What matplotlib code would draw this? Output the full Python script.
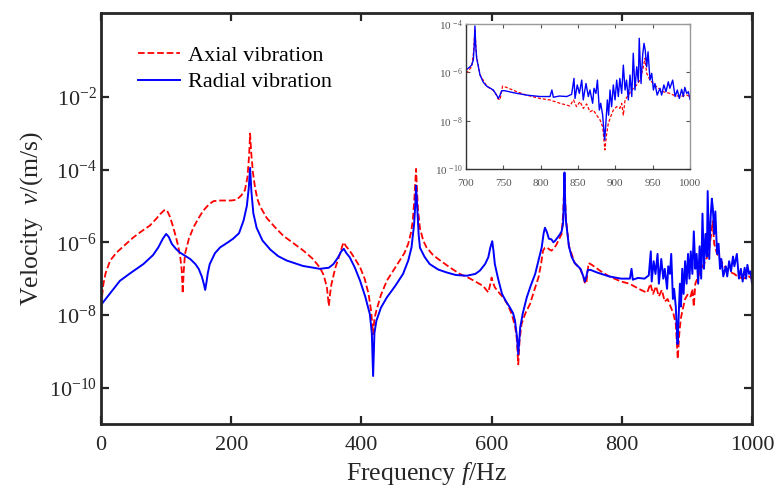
import numpy as np
import matplotlib
matplotlib.use("Agg")
import matplotlib.pyplot as plt

plt.rcParams['font.family'] = ['Liberation Serif', 'DejaVu Serif']
plt.rcParams['mathtext.fontset'] = 'custom'
plt.rcParams['mathtext.rm'] = 'Liberation Serif'
plt.rcParams['mathtext.it'] = 'Liberation Serif:italic'

# ---- Data (frequency in Hz, log10 of velocity in m/s) ----
axial_freq = [0, 1.5, 3.6, 7, 14, 24, 35, 50, 62, 75, 85, 91, 97, 101, 106, 111, 115, 119, 122, 124,
              125.5, 127, 129, 135, 142, 150, 157, 165, 172.5, 180, 193, 200, 208, 215, 221, 225, 227.5,
              229, 231, 233.5, 236.5, 240, 244, 254.5, 268, 280, 295, 311, 325, 336, 342, 347, 350, 352,
              354, 360, 367, 371, 373, 376, 382, 390, 398, 405, 411, 415, 418, 420, 423, 430, 439, 449,
              459, 466, 472, 476, 479, 481, 483, 484, 485.5, 487, 490, 495, 500, 510, 521, 535, 551, 565,
              577, 587, 595, 598, 600, 602, 605, 612, 618, 625, 631, 636, 638.5, 641, 643, 646, 652, 659,
              666, 672, 676, 679, 682, 685, 689, 692, 697, 700, 704, 707.6, 710, 712, 714, 718.8, 727.7,
              736.6, 741, 743, 745.5, 749, 754, 768, 781, 799, 812, 826, 839, 844, 848, 852.7, 857, 861.6,
              866, 870.5, 875, 879.5, 883, 886, 888.4, 890.6, 893.8, 897.3, 901.8, 906, 908.5, 910.7, 913,
              917.4, 922, 928.6, 933, 937.5, 939.7, 942, 946.4, 955, 964, 973, 977.7, 986.6, 995.5, 1000]
axial_log10 = [-7.75, -7.5, -7.15, -6.85, -6.5, -6.28, -6.1, -5.86, -5.7, -5.54, -5.35, -5.22, -5.12, -5.11,
               -5.3, -5.59, -5.85, -6.14, -6.45, -6.78, -7.41, -6.8, -6.32, -5.9, -5.59, -5.33, -5.13, -4.97,
               -4.87, -4.85, -4.85, -4.85, -4.83, -4.72, -4.57, -4.2, -3.6, -3.01, -3.6, -4.1, -4.48, -4.8,
               -5.0, -5.33, -5.6, -5.82, -6.02, -6.23, -6.45, -6.69, -6.9, -7.24, -7.75, -7.4, -7.15, -6.7,
               -6.32, -6.08, -6.0, -6.1, -6.23, -6.45, -6.69, -7.0, -7.42, -7.9, -8.53, -8.1, -7.88, -7.45,
               -7.06, -6.78, -6.5, -6.3, -6.04, -5.75, -5.4, -4.9, -4.3, -3.98, -4.6, -5.1, -5.62, -5.95,
               -6.14, -6.35, -6.5, -6.68, -6.87, -6.98, -7.1, -7.2, -7.38, -7.15, -6.97, -7.1, -7.24, -7.4,
               -7.52, -7.72, -7.98, -8.3, -8.62, -9.36, -8.7, -8.25, -7.95, -7.7, -7.3, -6.97, -6.6, -6.23,
               -6.15, -6.14, -6.2, -6.23, -6.14, -6.05, -5.9, -5.77, -5.2, -4.25, -5.3, -6.1, -6.57, -6.75,
               -6.95, -7.1, -7.14, -6.57, -6.62, -6.8, -6.94, -7.08, -7.14, -7.28, -7.39, -7.14, -7.42, -7.21,
               -7.49, -7.31, -7.63, -7.56, -7.77, -7.97, -8.25, -9.21, -8.52, -8.11, -7.83, -7.56, -7.42,
               -7.49, -7.28, -7.77, -7.14, -6.94, -6.73, -6.52, -6.32, -5.77, -5.42, -6.04, -6.32, -6.59,
               -6.8, -6.87, -6.94, -7.0, -6.94, -7.0]

radial_freq = [0, 1, 15, 29, 45, 65, 80, 88, 95, 100, 104, 108.6, 115, 121, 130, 137, 145, 150, 155, 158,
               160, 162, 164, 167, 175, 183, 195, 203, 212, 219, 224, 227, 229, 231, 234, 239, 248, 260,
               272, 285, 310, 336, 350, 357, 364, 369, 373, 377, 382, 390, 398, 406, 413, 416, 418, 420,
               423, 430, 439, 452, 464, 472, 477, 481, 483, 484, 486, 488, 490, 497, 505, 518, 531, 545,
               562, 575, 582, 590, 595, 598, 601, 603, 605, 610, 616, 622, 628, 633, 636, 639, 641, 643,
               644, 648, 654, 660, 667, 672, 677, 680, 682, 685, 688, 692, 695, 698, 700, 705, 707.6, 709.8,
               711, 712, 713, 714.3, 718.8, 723, 727.7, 736.6, 741, 743.3, 745.5, 747.8, 752, 763.4, 781,
               799, 812.5, 815, 817, 825, 835, 841.5, 844.6, 846, 849, 851.8, 855, 857, 860.7, 863.8, 866,
               869.6, 871.4, 874, 876, 878.6, 880.4, 883, 885.7, 887, 889.3, 891, 892.9, 895, 897.3, 899.6,
               901.8, 904, 906, 908.5, 910.7, 913, 915, 917.4, 919.6, 922, 924, 926.3, 928.6, 930.8, 932,
               934.4, 936.6, 938.4, 940, 942, 943.8, 946.4, 948.7, 951, 953, 956, 959.8, 962, 965, 967.8,
               970.9, 973, 976.8, 980, 983, 985.7, 988.8, 991, 993, 995.5, 997.8, 1000]
radial_log10 = [-7.72, -7.7, -7.38, -7.06, -6.85, -6.6, -6.35, -6.14, -5.9, -5.77, -5.85, -6.04, -6.18,
                -6.28, -6.38, -6.46, -6.6, -6.73, -6.95, -7.15, -7.31, -7.1, -6.85, -6.6, -6.3, -6.14, -6.0,
                -5.9, -5.75, -5.4, -5.0, -4.5, -3.95, -4.6, -5.2, -5.6, -5.95, -6.2, -6.38, -6.5, -6.65,
                -6.73, -6.7, -6.6, -6.42, -6.25, -6.18, -6.3, -6.41, -6.7, -7.06, -7.5, -7.98, -8.5, -9.68,
                -8.5, -8.16, -7.8, -7.52, -7.2, -6.87, -6.5, -6.14, -5.5, -4.9, -4.44, -5.1, -5.8, -6.15,
                -6.4, -6.6, -6.75, -6.83, -6.9, -6.92, -6.87, -6.78, -6.6, -6.41, -6.15, -5.97, -6.25, -6.6,
                -7.0, -7.42, -7.62, -7.79, -7.95, -8.16, -8.6, -9.08, -8.6, -8.34, -7.95, -7.52, -7.2, -6.87,
                -6.5, -6.14, -5.75, -5.6, -5.72, -5.9, -5.92, -6.0, -5.95, -5.9, -5.78, -5.7, -5.49, -4.9,
                -4.08, -4.9, -5.42, -6.11, -6.4, -6.57, -6.73, -6.94, -7.08, -6.95, -6.76, -6.76, -6.84,
                -6.94, -7.0, -7.0, -6.73, -7.03, -6.98, -7.0, -6.91, -6.25, -7.08, -6.52, -6.87, -6.32,
                -7.14, -6.46, -7.0, -6.73, -7.28, -6.66, -6.87, -6.32, -7.56, -7.28, -7.77, -8.8, -8.25,
                -7.14, -7.77, -6.73, -7.42, -6.52, -7.14, -6.32, -7.0, -6.25, -6.87, -5.7, -6.73, -6.32,
                -7.14, -6.11, -7.0, -5.21, -6.73, -5.77, -6.39, -4.59, -6.46, -5.28, -4.8, -5.08, -5.77,
                -5.15, -6.32, -6.04, -6.73, -6.46, -6.94, -6.66, -6.94, -6.52, -6.8, -6.39, -6.66, -6.32,
                -7.0, -6.73, -7.08, -6.7, -7.0, -6.62, -6.87, -6.8, -7.12]

x_ticks = [0, 200, 400, 600, 800, 1000]
y_tick_exps = [-10, -8, -6, -4, -2]
inset_x_ticks = [700, 750, 800, 850, 900, 950, 1000]
inset_y_tick_exps = [-10, -8, -6, -4]

axial_v = 10.0 ** np.array(axial_log10)
radial_v = 10.0 ** np.array(radial_log10)

fig = plt.figure(figsize=(7.76, 4.90), dpi=100)
ax = fig.add_axes([0.1302, 0.1347, 0.8388, 0.8388])

ax.plot(axial_freq, axial_v, color='#ff0000', linestyle='--', linewidth=1.3, label='Axial vibration')
ax.plot(radial_freq, radial_v, color='#0000ff', linestyle='-', linewidth=1.4, label='Radial vibration')
ax.set_yscale('log')
ax.set_xlim(0, 1000)
ax.set_ylim(1e-11, 10 ** 0.31)
ax.set_xticks(x_ticks)
ax.set_xticklabels([str(t) for t in x_ticks])
ax.set_yticks([10.0 ** e for e in y_tick_exps])
ax.set_yticklabels([r'$10^{%d}$' % e for e in y_tick_exps])
ax.yaxis.set_minor_locator(matplotlib.ticker.NullLocator())
ax.tick_params(axis='both', which='major', direction='in', length=6, width=1.6,
               top=True, right=True, labelsize=16, colors='#262626', labelcolor='#262626')
ax.tick_params(axis='x', pad=9)
ax.tick_params(axis='y', pad=3)
for sp in ax.spines.values():
    sp.set_linewidth(2.0)
    sp.set_color('#262626')
ax.set_xlabel(r'Frequency $\mathit{f}$/Hz', fontsize=18.5, color='#262626', labelpad=3)
ax.set_ylabel(r'Velocity  $\mathit{v}$/(m/s)', fontsize=18.5, color='#262626', labelpad=3)

leg = ax.legend(loc='upper left', frameon=False, fontsize=16, handlelength=1.9,
                handletextpad=0.35, labelspacing=0.28, borderaxespad=0.0, borderpad=0.0,
                bbox_to_anchor=(0.057, 0.922))

# ---- inset ----
axi = fig.add_axes([0.6005, 0.655, 0.2887, 0.296])
axi.plot(axial_freq, axial_v, color='#ff0000', linestyle='--', linewidth=0.9, dashes=(2.5, 1.5))
axi.plot(radial_freq, radial_v, color='#0000ff', linestyle='-', linewidth=1.0)
axi.set_yscale('log')
axi.set_xlim(700, 1000)
axi.set_ylim(1e-10, 1e-4)
axi.set_xticks(inset_x_ticks)
axi.set_xticklabels([str(t) for t in inset_x_ticks])
axi.set_yticks([10.0 ** e for e in inset_y_tick_exps])
axi.set_yticklabels([r'$10^{\,%d}$' % e for e in inset_y_tick_exps])
axi.yaxis.set_minor_locator(matplotlib.ticker.NullLocator())
axi.tick_params(axis='both', which='major', direction='in', length=3, width=0.8,
                top=True, right=True, labelsize=8, colors='#555555', labelcolor='#555555')
axi.tick_params(axis='x', pad=7)
axi.tick_params(axis='y', pad=2)
for name, sp in axi.spines.items():
    sp.set_linewidth(1.0)
    sp.set_color('#333333' if name in ('left', 'bottom') else '#999999')

fig.savefig('out.png', dpi=100)
